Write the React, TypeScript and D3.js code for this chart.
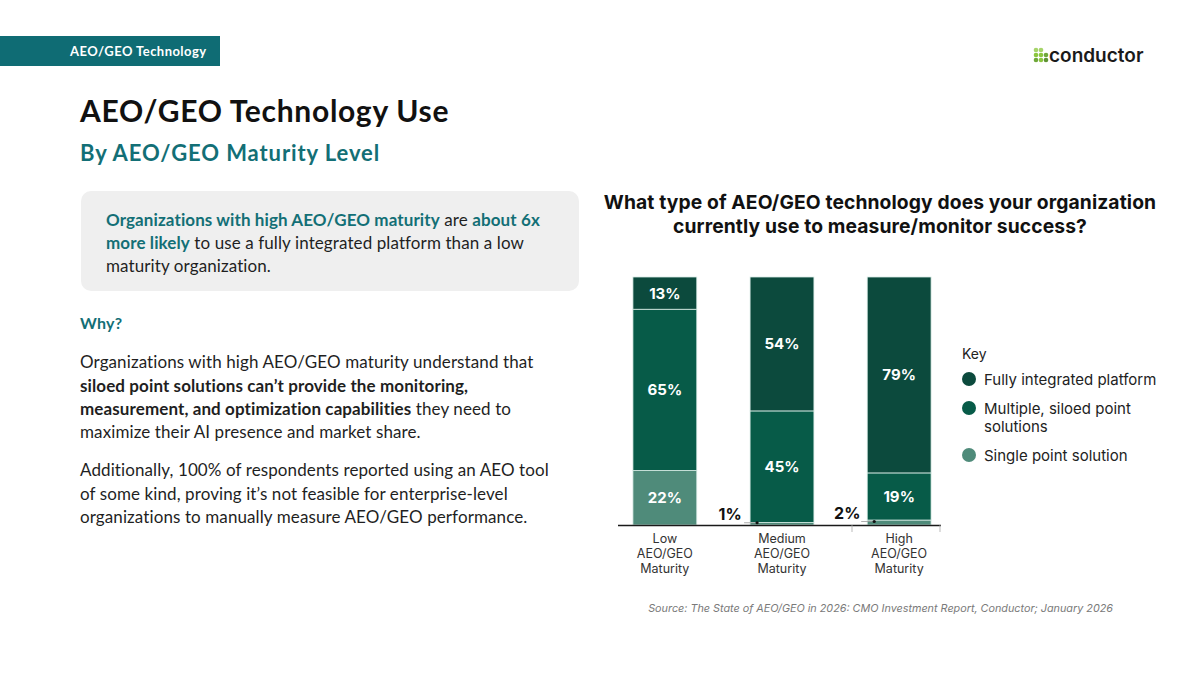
import React from "react";
import * as d3 from "d3";

const categories = ["Low", "Medium", "High"];
const categoryLines = [
  ["Low", "AEO/GEO", "Maturity"],
  ["Medium", "AEO/GEO", "Maturity"],
  ["High", "AEO/GEO", "Maturity"],
];
const fullyIntegrated = [13, 54, 79];
const multipleSiloed = [65, 45, 19];
const singlePoint = [22, 1, 2];

const seriesKeys = ["single", "multiple", "fully"];
const colors = { fully: "#0c4a3d", multiple: "#075b48", single: "#4f8b7a" };

const leftFont = "Lato, 'Open Sans', sans-serif";
const chartFont = "Inter, Roboto, sans-serif";
const teal = "#136f76";

const App = () => {
  const rows = categories.map((c, i) => ({
    cat: c,
    single: singlePoint[i],
    multiple: multipleSiloed[i],
    fully: fullyIntegrated[i],
  }));
  const stacked = d3.stack().keys(seriesKeys)(rows as any);

  const x = d3
    .scaleBand()
    .domain(categories)
    .range([606, 958])
    .paddingInner(0.455)
    .paddingOuter(0.23);
  const y = d3.scaleLinear().domain([0, 100]).range([525, 277]);
  const bw = x.bandwidth();

  const legendItems = [
    { key: "fully", lines: ["Fully integrated platform"], cy: 379 },
    { key: "multiple", lines: ["Multiple, siloed point", "solutions"], cy: 408 },
    { key: "single", lines: ["Single point solution"], cy: 455 },
  ];

  const body = { fontFamily: leftFont, fontSize: 17, fill: "#1f1f1f", letterSpacing: 0.1 };

  return (
    <svg
      width={1200}
      height={675}
      style={{ position: "absolute", left: 0, top: 0, background: "#fff" }}
    >
      {/* header tag */}
      <rect x={0} y={36} width={220} height={30} fill="#0f6c74" />
      <text x={70} y={56} fill="#fff" fontFamily={leftFont} fontWeight={700} fontSize={13} letterSpacing={0.45}>
        AEO/GEO Technology
      </text>

      {/* logo */}
      <g fill="#8cc63f">
        <circle cx={1036} cy={50} r={2.3} fill="#a6d46a" />
        <circle cx={1041} cy={50} r={2.3} fill="#a6d46a" />
        <circle cx={1036} cy={55} r={2.3} />
        <circle cx={1041} cy={55} r={2.3} />
        <circle cx={1046} cy={55} r={2.3} fill="#6fa83a" />
        <circle cx={1036} cy={60} r={2.3} fill="#6fa83a" />
        <circle cx={1041} cy={60} r={2.3} />
        <circle cx={1046} cy={60} r={2.3} fill="#5e9432" />
      </g>
      <text x={1049} y={62} fontFamily={chartFont} fontWeight={600} fontSize={19} fill="#1a1a1a">
        conductor
      </text>

      {/* titles */}
      <text x={80} y={122} fontFamily={leftFont} fontWeight={700} fontSize={30} fill="#111" letterSpacing={0.7}>
        AEO/GEO Technology Use
      </text>
      <text x={80} y={161} fontFamily={leftFont} fontWeight={700} fontSize={22} fill={teal} letterSpacing={0.9}>
        By AEO/GEO Maturity Level
      </text>

      {/* callout box */}
      <rect x={81} y={191} width={498} height={100} rx={10} fill="#efefef" />
      <text {...body} x={106} y={226}>
        <tspan fill={teal} fontWeight={700}>Organizations with high AEO/GEO maturity</tspan>
        <tspan> are </tspan>
        <tspan fill={teal} fontWeight={700}>about 6x</tspan>
      </text>
      <text {...body} x={106} y={249}>
        <tspan fill={teal} fontWeight={700}>more likely</tspan>
        <tspan> to use a fully integrated platform than a low</tspan>
      </text>
      <text {...body} x={106} y={272}>
        maturity organization.
      </text>

      <text x={80} y={329} fontFamily={leftFont} fontWeight={700} fontSize={16} fill={teal} letterSpacing={0.3}>
        Why?
      </text>
      <text {...body} x={80} y={368}>
        Organizations with high AEO/GEO maturity understand that
      </text>
      <text {...body} x={80} y={392} fontWeight={700}>
        siloed point solutions can’t provide the monitoring,
      </text>
      <text {...body} x={80} y={415}>
        <tspan fontWeight={700}>measurement, and optimization capabilities</tspan>
        <tspan> they need to</tspan>
      </text>
      <text {...body} x={80} y={438}>
        maximize their AI presence and market share.
      </text>
      <text {...body} x={80} y={476}>
        Additionally, 100% of respondents reported using an AEO tool
      </text>
      <text {...body} x={80} y={500}>
        of some kind, proving it’s not feasible for enterprise-level
      </text>
      <text {...body} x={80} y={523}>
        organizations to manually measure AEO/GEO performance.
      </text>

      {/* chart title */}
      <g fontFamily={chartFont} fontWeight={700} fontSize={19.3} fill="#111" textAnchor="middle" letterSpacing={0.1}>
        <text x={880} y={209}>What type of AEO/GEO technology does your organization</text>
        <text x={880} y={233}>currently use to measure/monitor success?</text>
      </g>

      {/* bars */}
      {stacked.map((s) => (
        <g key={s.key} fill={(colors as any)[s.key]}>
          {s.map((d: any, i) => (
            <rect
              key={i}
              x={x(categories[i])}
              y={y(d[1])}
              width={bw}
              height={y(d[0]) - y(d[1])}
              stroke="#d8ebe5"
              strokeWidth={0.8}
            />
          ))}
        </g>
      ))}

      {/* value labels */}
      <g fontFamily={chartFont} fontWeight={700} fontSize={15}>
        {stacked.map((s) =>
          s.map((d: any, i) => {
            const v = d[1] - d[0];
            const cx = (x(categories[i]) as number) + bw / 2;
            if (v >= 5) {
              return (
                <text
                  key={s.key + i}
                  x={cx}
                  y={(y(d[0]) + y(d[1])) / 2 + 5.5}
                  textAnchor="middle"
                  fill="#fff"
                >
                  {v}%
                </text>
              );
            }
            const bx = x(categories[i]) as number;
            const ly = (y(d[0]) + y(d[1])) / 2;
            return (
              <g key={s.key + i}>
                <text x={bx - 20} y={ly - 4} textAnchor="middle" fill="#111" fontSize={16}>
                  {v}%
                </text>
                <line x1={bx - 6} x2={bx + 7} y1={ly - 1} y2={ly - 1} stroke="#999" strokeWidth={0.8} />
                <circle cx={bx + 7} cy={ly - 1} r={1.6} fill="#111" />
              </g>
            );
          })
        )}
      </g>

      {/* baseline axis */}
      <line x1={618} x2={941} y1={y(0) + 0.5} y2={y(0) + 0.5} stroke="#1a1a1a" strokeWidth={1.3} />
      <line x1={852} x2={852} y1={y(0)} y2={y(0) + 7} stroke="#aaa" strokeWidth={0.8} />
      <line x1={940} x2={940} y1={y(0)} y2={y(0) + 7} stroke="#aaa" strokeWidth={0.8} />

      {/* category labels */}
      <g fontFamily={chartFont} fontSize={12.5} fill="#333" textAnchor="middle">
        {categories.map((c, i) => (
          <text key={c} x={(x(c) as number) + bw / 2} y={543}>
            {categoryLines[i].map((l, j) => (
              <tspan key={j} x={(x(c) as number) + bw / 2} dy={j === 0 ? 0 : 15}>
                {l}
              </tspan>
            ))}
          </text>
        ))}
      </g>

      {/* legend */}
      <g fontFamily={chartFont} fontSize={15} fill="#222">
        <text x={962} y={359} fontSize={14}>
          Key
        </text>
        {legendItems.map((it) => (
          <g key={it.key}>
            <circle cx={969} cy={it.cy} r={7} fill={(colors as any)[it.key]} />
            <text x={984} y={it.cy + 6}>
              {it.lines.map((l, j) => (
                <tspan key={j} x={984} dy={j === 0 ? 0 : 18}>
                  {l}
                </tspan>
              ))}
            </text>
          </g>
        ))}
      </g>

      {/* source */}
      <text
        x={1113}
        y={612}
        textAnchor="end"
        fontFamily={chartFont}
        fontStyle="italic"
        fontSize={10.8}
        fill="#7a7a7a"
      >
        Source: The State of AEO/GEO in 2026: CMO Investment Report, Conductor; January 2026
      </text>
    </svg>
  );
};

export default App;
